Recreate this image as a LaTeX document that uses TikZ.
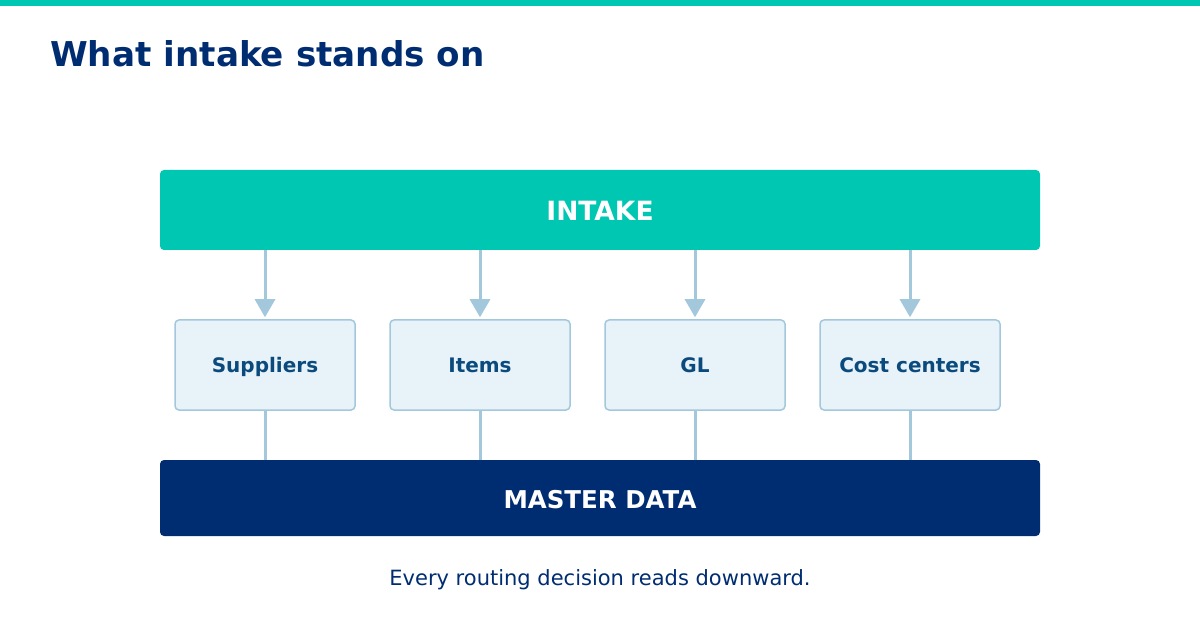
\documentclass[tikz,border=0pt]{standalone}
\usepackage{fontspec}
\setmainfont{DejaVu Sans}
\usetikzlibrary{arrows.meta}
\definecolor{teal}{HTML}{00C7B2}
\definecolor{navy}{HTML}{002D72}
\definecolor{boxfill}{HTML}{E8F3F9}
\definecolor{boxline}{HTML}{A3C8DC}
\definecolor{conn}{HTML}{A3C8DC}
\definecolor{boxtext}{HTML}{0B4A7C}
\tikzset{
  x=1pt,y=-1pt,
  layerbox/.style={draw=boxline, line width=1.5pt, fill=boxfill, rounded corners=4pt,
    minimum width=180pt, minimum height=90pt, inner sep=0pt},
  boxlabel/.style={anchor=base, inner sep=0pt, font=\fontsize{20}{24}\selectfont\bfseries, text=boxtext},
  conn/.style={draw=conn, line width=3pt},
  arr/.style={conn, -{Triangle[length=18pt,width=20pt]}, shorten >=2pt},
}
\begin{document}
\begin{tikzpicture}
\useasboundingbox (0,0) rectangle (1200,620);
\fill[white] (0,0) rectangle (1200,620);
\fill[teal] (0,0) rectangle (1200,6);
\node[anchor=base west, text=navy, font=\fontsize{34.2}{40}\selectfont\bfseries, inner sep=0pt] (title) at (50,67) {What intake stands on};
\node[fill=teal, rounded corners=4pt, minimum width=880pt, minimum height=80pt, inner sep=0pt] (intake) at (600,210) {};
\node[anchor=base, text=white, font=\fontsize{26.5}{30}\selectfont\bfseries, inner sep=0pt] at (600,220.5) {INTAKE};
\node[fill=navy, rounded corners=4pt, minimum width=880pt, minimum height=76pt, inner sep=0pt] (master) at (600,498) {};
\node[anchor=base, text=white, font=\fontsize{24.5}{28}\selectfont\bfseries, inner sep=0pt] at (600,508) {MASTER DATA};
\foreach \n/\x/\t in {sup/265/Suppliers,items/480/Items,gl/695/GL,cost/910/Cost centers}{
  \node[layerbox] (\n) at (\x,365) {};
  \node[boxlabel] at (\x,373) {\t};
  \draw[arr] (intake.south -| \n.north) -- (\n.north);
  \draw[conn] (\n.south) -- (master.north -| \n.south);
}
\node[text=navy, font=\fontsize{21}{25}\selectfont, anchor=base, inner sep=0pt] (cap) at (600,585) {Every routing decision reads downward.};
\end{tikzpicture}
\end{document}
